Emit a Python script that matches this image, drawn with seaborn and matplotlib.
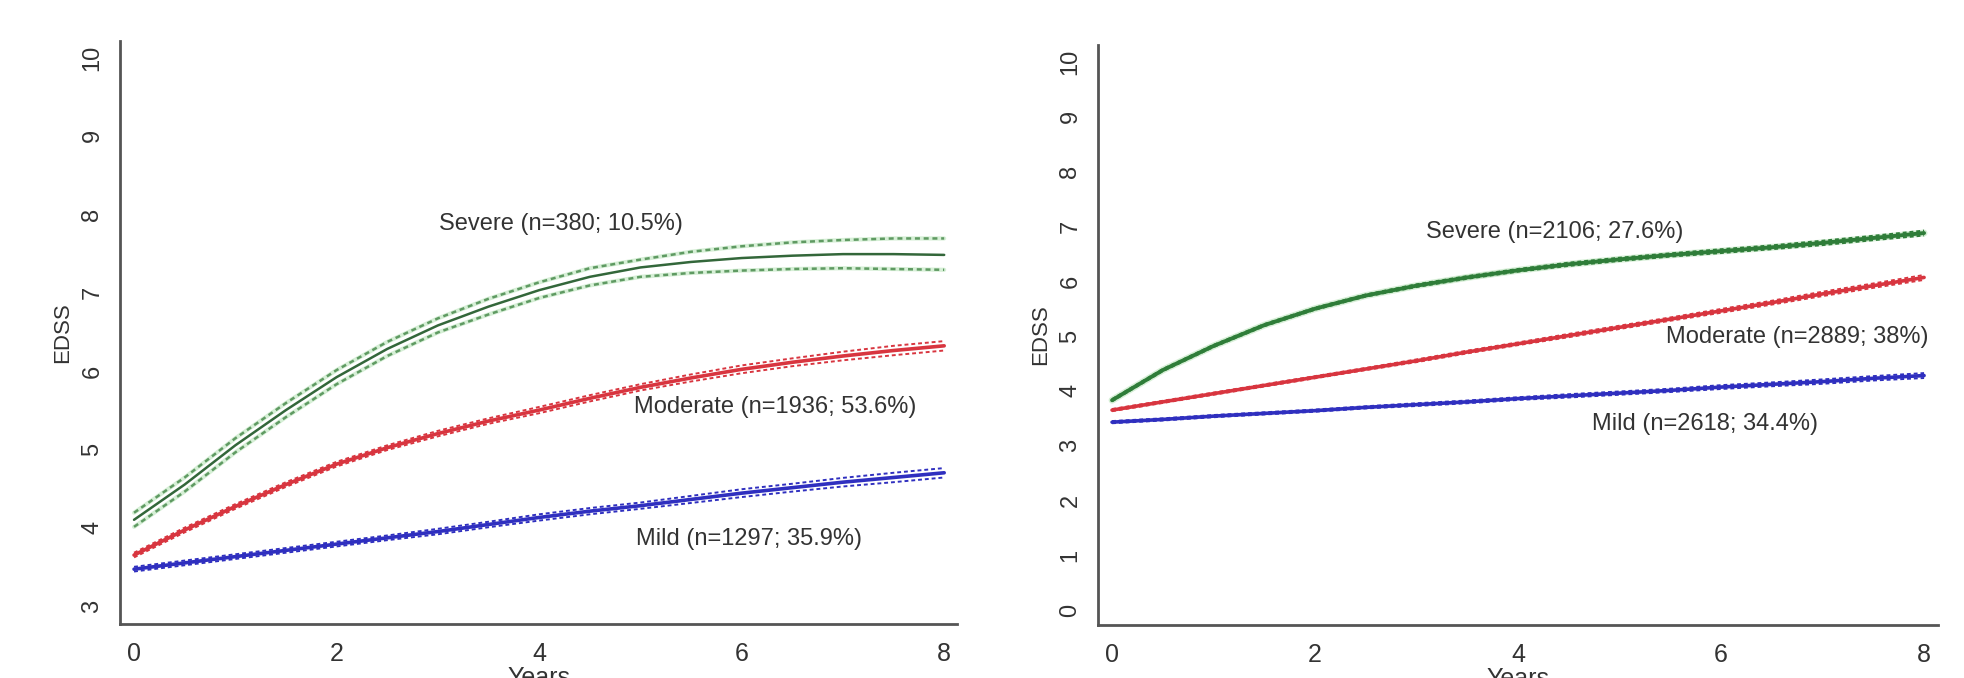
import matplotlib
matplotlib.use("Agg")
import matplotlib.pyplot as plt
import seaborn as sns
import numpy as np

# years at half-year steps
years = [0, 0.5, 1, 1.5, 2, 2.5, 3, 3.5, 4, 4.5, 5, 5.5, 6, 6.5, 7, 7.5, 8]

# left panel
left_severe = [4.10, 4.55, 5.05, 5.50, 5.92, 6.28, 6.58, 6.82, 7.03, 7.20, 7.32, 7.39, 7.44, 7.47, 7.49, 7.49, 7.48]
left_severe_hi = [4.19, 4.64, 5.14, 5.59, 6.01, 6.37, 6.67, 6.92, 7.13, 7.31, 7.42, 7.52, 7.59, 7.64, 7.67, 7.69, 7.69]
left_severe_lo = [4.01, 4.46, 4.96, 5.41, 5.83, 6.19, 6.49, 6.72, 6.93, 7.09, 7.20, 7.25, 7.28, 7.30, 7.31, 7.30, 7.29]
left_moderate = [3.65, 3.97, 4.27, 4.55, 4.81, 5.02, 5.20, 5.36, 5.50, 5.65, 5.79, 5.91, 6.02, 6.11, 6.19, 6.26, 6.32]
left_mild = [3.47, 3.55, 3.63, 3.71, 3.79, 3.87, 3.95, 4.04, 4.13, 4.21, 4.28, 4.36, 4.44, 4.51, 4.58, 4.64, 4.70]
left_ci_halfwidth = [0.03, 0.03, 0.03, 0.03, 0.03, 0.03, 0.035, 0.035, 0.04, 0.04, 0.04, 0.045, 0.05, 0.05, 0.055, 0.06, 0.06]

# right panel
right_severe = [3.83, 4.38, 4.82, 5.20, 5.50, 5.74, 5.92, 6.07, 6.20, 6.31, 6.40, 6.48, 6.55, 6.62, 6.70, 6.79, 6.88]
right_moderate = [3.65, 3.80, 3.95, 4.10, 4.25, 4.40, 4.55, 4.71, 4.86, 5.01, 5.16, 5.31, 5.46, 5.61, 5.77, 5.92, 6.07]
right_mild = [3.43, 3.48, 3.54, 3.59, 3.64, 3.70, 3.75, 3.80, 3.86, 3.91, 3.96, 4.01, 4.07, 4.12, 4.17, 4.23, 4.28]
right_ci_halfwidth = [0.02, 0.02, 0.02, 0.02, 0.02, 0.02, 0.025, 0.025, 0.025, 0.03, 0.03, 0.03, 0.035, 0.035, 0.04, 0.04, 0.045]

left_labels = ["Severe (n=380; 10.5%)", "Moderate (n=1936; 53.6%)", "Mild (n=1297; 35.9%)"]
right_labels = ["Severe (n=2106; 27.6%)", "Moderate (n=2889; 38%)", "Mild (n=2618; 34.4%)"]

GREEN_DARK = "#33673a"
GREEN = "#2f7d39"
GREEN_CI = "#5f9a62"
GREEN_HALO = "#d6efd6"
RED = "#d8353f"
BLUE = "#2f2fbf"
AXIS_GREY = "#555555"
TEXT = "#333333"

sns.set_style("white")
plt.rcParams["font.family"] = ["Liberation Sans", "DejaVu Sans"]

fig = plt.figure(figsize=(19.65, 6.78), dpi=100)
ax_l = fig.add_axes([0.0611, 0.0796, 0.426, 0.86])
ax_r = fig.add_axes([0.5588, 0.0782, 0.4275, 0.8554])

DOTS = (0, (2, 1.5))


def band(ax, x, mid, half, color, lw_mid, lw_ci):
    y = np.array(mid)
    h = np.array(half)
    sns.lineplot(x=x, y=y + h, ax=ax, color=color, lw=lw_ci, linestyle=DOTS, estimator=None)
    sns.lineplot(x=x, y=y - h, ax=ax, color=color, lw=lw_ci, linestyle=DOTS, estimator=None)
    sns.lineplot(x=x, y=y, ax=ax, color=color, lw=lw_mid, estimator=None)


# left: severe has a wide CI drawn as dotted lines around a thin dark mean line
for ci in (left_severe_hi, left_severe_lo):
    sns.lineplot(x=years, y=ci, ax=ax_l, color=GREEN_HALO, lw=3, estimator=None)
    sns.lineplot(x=years, y=ci, ax=ax_l, color=GREEN_CI, lw=1.8, linestyle=DOTS, estimator=None)
sns.lineplot(x=years, y=left_severe, ax=ax_l, color=GREEN_DARK, lw=1.8, estimator=None)
band(ax_l, years, left_moderate, left_ci_halfwidth, RED, 2.6, 1.4)
band(ax_l, years, left_mild, left_ci_halfwidth, BLUE, 2.6, 1.4)

sns.lineplot(x=years, y=right_severe, ax=ax_r, color=GREEN_HALO, lw=5, estimator=None)
band(ax_r, years, right_severe, right_ci_halfwidth, GREEN, 2.8, 1.4)
band(ax_r, years, right_moderate, right_ci_halfwidth, RED, 2.6, 1.4)
band(ax_r, years, right_mild, right_ci_halfwidth, BLUE, 2.6, 1.4)

ax_l.text(3.01, 7.88, left_labels[0], fontsize=17, color=TEXT, va="center")
ax_l.text(4.94, 5.54, left_labels[1], fontsize=17, color=TEXT, va="center")
ax_l.text(4.96, 3.86, left_labels[2], fontsize=17, color=TEXT, va="center")
ax_r.text(3.09, 6.90, right_labels[0], fontsize=17, color=TEXT, va="center")
ax_r.text(5.46, 4.99, right_labels[1], fontsize=17, color=TEXT, va="center")
ax_r.text(4.73, 3.39, right_labels[2], fontsize=17, color=TEXT, va="center")

ax_l.set_xlim(-0.138, 8.128)
ax_l.set_ylim(2.77, 10.21)
ax_l.set_yticks(range(3, 11))
ax_r.set_xlim(-0.138, 8.138)
ax_r.set_ylim(-0.27, 10.31)
ax_r.set_yticks(range(0, 11))

for ax in (ax_l, ax_r):
    ax.set_xticks([0, 2, 4, 6, 8])
    for side in ("top", "right"):
        ax.spines[side].set_visible(False)
    for side in ("left", "bottom"):
        ax.spines[side].set_color(AXIS_GREY)
        ax.spines[side].set_linewidth(2)
    ax.tick_params(axis="x", length=7, width=1.5, color=AXIS_GREY, labelsize=18,
                   labelcolor=TEXT, pad=6, direction="out")
    ax.tick_params(axis="y", length=7, width=1.5, color=AXIS_GREY, labelsize=17,
                   labelcolor=TEXT, pad=5, direction="out", labelrotation=90)
    for lab in ax.get_yticklabels():
        lab.set_va("center")
    ax.set_xlabel("Years", fontsize=18, color=TEXT, labelpad=0)
    ax.set_ylabel("EDSS", fontsize=16, color=TEXT, labelpad=6)

fig.savefig("out.png", dpi=100, facecolor="white")
